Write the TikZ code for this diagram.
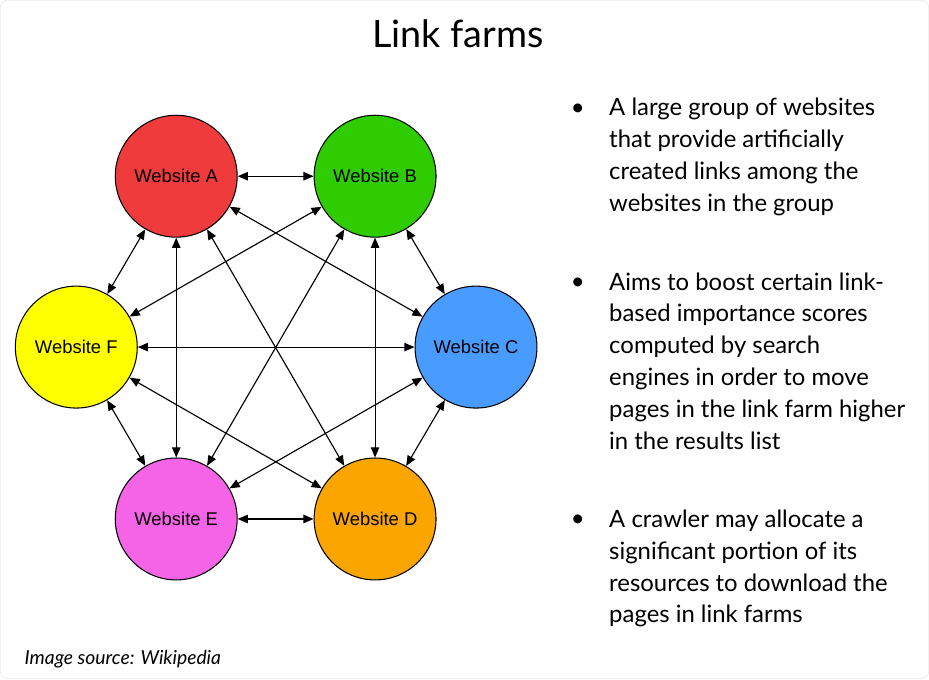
\documentclass[tikz,border=0pt]{standalone}
\usepackage{fontspec}
\setmainfont{Lato}
\newfontfamily\nodefont{Liberation Sans}
\usetikzlibrary{arrows.meta}

\definecolor{siteRed}{RGB}{239,59,59}
\definecolor{siteGreen}{RGB}{46,204,0}
\definecolor{siteBlue}{RGB}{72,156,255}
\definecolor{siteOrange}{RGB}{250,165,0}
\definecolor{sitePink}{RGB}{245,100,230}
\definecolor{siteYellow}{RGB}{255,255,0}

\tikzset{
  site/.style={circle, draw, line width=0.6pt, minimum size=122*0.02cm, inner sep=0pt,
    font=\nodefont\fontsize{10.5}{12}\selectfont},
  link/.style={line width=0.65pt, {Triangle[length=5.8pt,width=4.8pt]}-{Triangle[length=5.8pt,width=4.8pt]}},
  bullettext/.style={anchor=base west, align=left, inner sep=0pt,
    font=\fontsize{13.6}{18.1}\selectfont},
  dot/.style={anchor=base, inner sep=0pt, font=\fontsize{13.6}{18.1}\selectfont}
}

\begin{document}
\begin{tikzpicture}[x=0.02cm, y=-0.02cm]
    % Slide
    \draw[black!8, fill=white, rounded corners=4pt] (0,0) rectangle (929,679);
    \useasboundingbox (0,0) rectangle (929,679);
    \node[anchor=base, inner sep=0pt, font=\fontsize{21.5}{26}\selectfont] (title) at (458,47) {Link farms};

    % Websites
    \node[site, fill=siteRed]    (A) at (176,176) {Website A};
    \node[site, fill=siteGreen]  (B) at (375,176) {Website B};
    \node[site, fill=siteBlue]   (C) at (476,347) {Website C};
    \node[site, fill=siteOrange] (D) at (375,519) {Website D};
    \node[site, fill=sitePink]   (E) at (176,519) {Website E};
    \node[site, fill=siteYellow] (F) at (76,347)  {Website F};

    % Links
    \foreach \s/\t in {A/B,A/C,A/D,A/E,A/F,B/C,B/D,B/E,B/F,C/D,C/E,C/F,D/E,D/F,E/F} {
        \draw[link] (\s) -- (\t);
    }

    % Bullets (text nodes sit on the baseline of their last line)
    \node[dot] (b1) at (578,115) {\textbullet};
    \node[bullettext] (t1) at (609,211) {A large group of websites\\that provide artificially\\created links among the\\websites in the group};
    \node[dot] (b2) at (578,289) {\textbullet};
    \node[bullettext] (t2) at (609,449) {Aims to boost certain link-\\based importance scores\\computed by search\\engines in order to move\\pages in the link farm higher\\in the results list};
    \node[dot] (b3) at (578,527) {\textbullet};
    \node[bullettext] (t3) at (609,623) {A crawler may allocate a\\significant portion of its\\resources to download the\\pages in link farms};

    \node[anchor=base west, inner sep=0pt, font=\itshape\fontsize{11}{13}\selectfont] (src) at (24,665) {Image source: Wikipedia};
\end{tikzpicture}
\end{document}
